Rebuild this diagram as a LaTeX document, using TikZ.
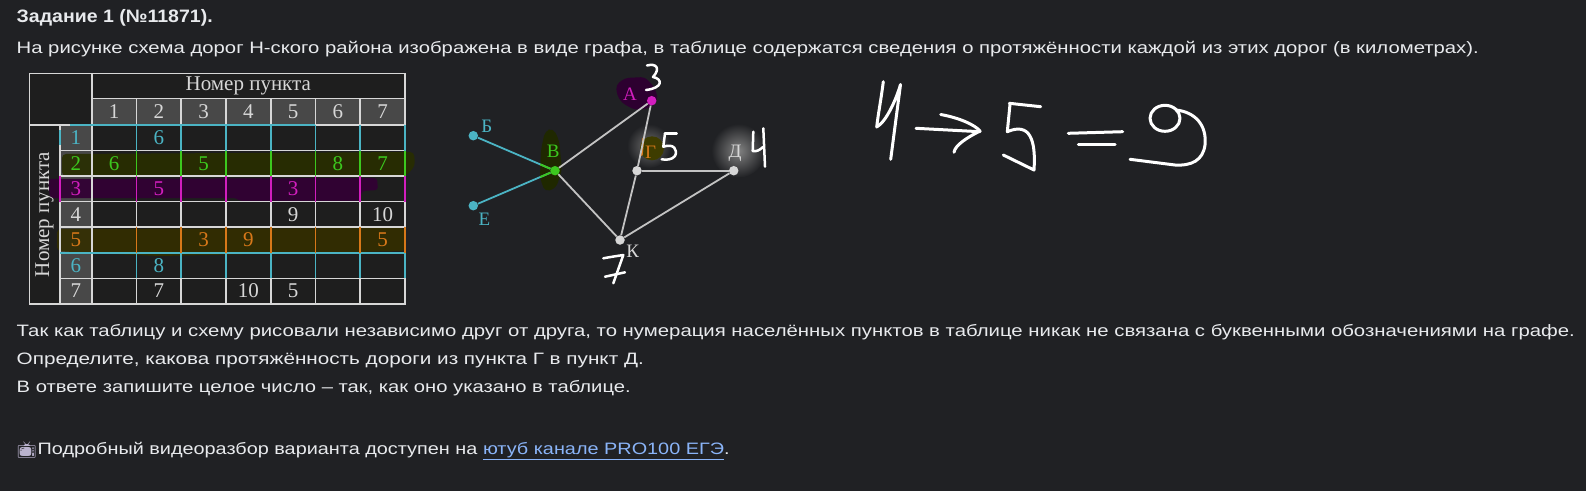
\documentclass[tikz,border=0pt]{standalone}
\usepackage{fontspec}
\usepackage{graphicx}
\usetikzlibrary{calc}
\setmainfont{Liberation Sans}
\newfontfamily\tabfont{Liberation Serif}
\newfontfamily\emojifont{Noto Emoji}
\definecolor{pagebg}{RGB}{32,33,36}
\definecolor{pagetext}{RGB}{232,234,237}
\definecolor{linkblue}{RGB}{138,180,248}
\definecolor{tvcolor}{RGB}{185,178,205}
\definecolor{gridline}{RGB}{215,215,215}
\definecolor{headcell}{RGB}{72,72,72}
\definecolor{bodycell}{RGB}{30,30,30}
\definecolor{hlcyan}{RGB}{75,180,196}
\definecolor{hlgreen}{RGB}{60,200,30}
\definecolor{hlmagenta}{RGB}{210,30,190}
\definecolor{hlorange}{RGB}{215,120,25}
\definecolor{brushgreen}{RGB}{40,46,0}
\definecolor{brushpurple}{RGB}{50,0,52}
\definecolor{brusholive}{RGB}{52,46,0}
\definecolor{blobyellow}{RGB}{62,60,0}
\definecolor{blobpurple}{RGB}{45,0,48}
\definecolor{blobgreen}{RGB}{31,40,0}
\definecolor{glowD}{RGB}{130,130,130}
\definecolor{glowG}{RGB}{110,110,110}
\definecolor{edgegray}{RGB}{195,195,195}
\definecolor{dotgray}{RGB}{215,215,215}
\newcommand{\fitw}[2]{\resizebox{#1}{\height}{#2}}
\tikzset{
  txt/.style={anchor=base west, inner sep=0pt, text=pagetext, font=\fontsize{16.5}{16.5}\selectfont},
  cellnum/.style={inner sep=0pt, text=#1, font=\tabfont\fontsize{21}{21}\selectfont},
  cellnum/.default=gridline,
  town/.style={circle, fill=#1, inner sep=0pt, minimum size=9.5pt},
  townlabel/.style={inner sep=0pt, text=#1, font=\tabfont\fontsize{19}{19}\selectfont},
  road/.style={line width=1.8pt, draw=#1},
  pen/.style={white, line width=3pt, line cap=round, line join=round},
}
\begin{document}
\begin{tikzpicture}[x=1pt, y=-1pt]
	\useasboundingbox (0,0) rectangle (1586,491);
	\fill[pagebg] (0,0) rectangle (1586,491);

	% task text
	\node[txt, font=\fontsize{18}{18}\selectfont\bfseries] (title) at (16.5,22) {\fitw{196pt}{Задание 1 (№11871).}};
	\node[txt] (intro) at (16.5,53.3) {\fitw{1462pt}{На рисунке схема дорог Н-ского района изображена в виде графа, в таблице содержатся сведения о протяжённости каждой из этих дорог (в километрах).}};
	\node[txt] (note) at (16.5,336.5) {\fitw{1558pt}{Так как таблицу и схему рисовали независимо друг от друга, то нумерация населённых пунктов в таблице никак не связана с буквенными обозначениями на графе.}};
	\node[txt] (question) at (16.5,364.5) {\fitw{627pt}{Определите, какова протяжённость дороги из пункта Г в пункт Д.}};
	\node[txt] (answer) at (16.5,392.5) {\fitw{614pt}{В ответе запишите целое число – так, как оно указано в таблице.}};
	\node[txt, text=tvcolor, font=\emojifont\fontsize{16}{16}\selectfont] (tv) at (16.5,455) {📺};
	\node[txt] (video) at (37.4,454.5) {\fitw{692pt}{Подробный видеоразбор варианта доступен на \textcolor{linkblue}{\underline{ютуб канале PRO100 ЕГЭ}}.}};

	% table
	\fill[bodycell] (29.3,73.3) rectangle (404.95,303.85);
	\foreach \c in {1,...,7}
		\fill[headcell] (91.7+\c*44.75-44.75,98.3) rectangle ++(44.75,26.7);
	\foreach \r in {1,...,7}
		\fill[headcell] (60,99.45+\r*25.55) rectangle ++(31.7,25.55);
	% highlighter strokes
	\fill[brushgreen, opacity=.9, rounded corners=4pt] (62,154) -- (414,152) -- (415,166) -- (406,176) -- (62,176) -- cycle;
	\fill[brushpurple, opacity=.92, rounded corners=3pt] (48,179) -- (377,178) -- (378,190) -- (362,191) -- (360,201) -- (240,201) -- (236,198) -- (50,198) -- cycle;
	\fill[brusholive, opacity=.9, rounded corners=4pt] (57,229) -- (405,228) -- (405,251) -- (300,253) -- (160,256) -- (90,253) -- (57,251) -- cycle;
	% grid
	\begin{scope}[draw=gridline, line width=1.6pt]
		\draw (29.3,73.3) rectangle (404.95,303.85);
		\draw (91.7,98.3) -- (404.95,98.3);
		\draw (29.3,125) -- (404.95,125);
		\foreach \r in {1,...,6}
			\draw (60,125+\r*25.55) -- (404.95,125+\r*25.55);
		\draw (60,125) -- (60,303.85);
		\draw (91.7,73.3) -- (91.7,303.85);
		\foreach \c in {1,...,6}
			\draw (91.7+\c*44.75,98.3) -- (91.7+\c*44.75,303.85);
	\end{scope}
	% coloured grid segments
	\draw[hlcyan, line width=1.6pt] (70,125) -- (315,125);
	\draw[hlcyan, line width=1.6pt] (60,252.75) -- (404.95,252.75);
	\foreach \c in {1,...,7} {
		\draw[hlcyan, line width=1.6pt] (91.7+\c*44.75,125) -- ++(0,25.55);
		\draw[hlgreen, line width=1.6pt] (91.7+\c*44.75,150.55) -- ++(0,25.55);
		\draw[hlmagenta, line width=1.6pt] (91.7+\c*44.75,176.1) -- ++(0,25.55);
		\draw[hlorange, line width=1.6pt] (91.7+\c*44.75,227.2) -- ++(0,25.55);
		\draw[hlcyan, line width=1.6pt] (91.7+\c*44.75,252.75) -- ++(0,25.55);
	}
	\draw[hlcyan, line width=1.6pt] (60,130) -- (60,145);
	\draw[hlmagenta, line width=1.6pt] (60,176.1) -- (60,201.65);
	% headers
	\node[cellnum] (head) at (248.3,86) {Номер пункта};
	\node[cellnum, rotate=90] (side) at (44.6,214.4) {Номер пункта};
	\foreach \c in {1,...,7}
		\node[cellnum] (h\c) at (69.3+\c*44.75,111.6) {\c};
	\node[cellnum=hlcyan] (v1) at (75.8,137.8) {1};
	\node[cellnum=hlgreen] (v2) at (75.8,163.3) {2};
	\node[cellnum=hlmagenta] (v3) at (75.8,188.9) {3};
	\node[cellnum] (v4) at (75.8,214.4) {4};
	\node[cellnum=hlorange] (v5) at (75.8,240) {5};
	\node[cellnum=hlcyan] (v6) at (75.8,265.5) {6};
	\node[cellnum] (v7) at (75.8,291.1) {7};
	% distances
	\node[cellnum=hlcyan] (d12) at (158.8,137.8) {6};
	\node[cellnum=hlgreen] (d21) at (114.1,163.3) {6};
	\node[cellnum=hlgreen] (d23) at (203.6,163.3) {5};
	\node[cellnum=hlgreen] (d26) at (337.8,163.3) {8};
	\node[cellnum=hlgreen] (d27) at (382.6,163.3) {7};
	\node[cellnum=hlmagenta] (d32) at (158.8,188.9) {5};
	\node[cellnum=hlmagenta] (d35) at (293.1,188.9) {3};
	\node[cellnum] (d45) at (293.1,214.4) {9};
	\node[cellnum] (d47) at (382.6,214.4) {10};
	\node[cellnum=hlorange] (d53) at (203.6,240) {3};
	\node[cellnum=hlorange] (d54) at (248.3,240) {9};
	\node[cellnum=hlorange] (d57) at (382.6,240) {5};
	\node[cellnum=hlcyan] (d62) at (158.8,265.5) {8};
	\node[cellnum] (d72) at (158.8,291.1) {7};
	\node[cellnum] (d74) at (248.3,291.1) {10};
	\node[cellnum] (d75) at (293.1,291.1) {5};

	% graph: marks under the towns
	\shade[inner color=glowD, outer color=pagebg] (738.3,150.7) circle (27);
	\shade[inner color=glowG, outer color=pagebg] (649,146) circle (22);
	\fill[blobyellow] (652,148.3) circle (12);
	\draw[hlorange, line width=2pt, line cap=round] (643.3,138.3) -- (641.7,155);
	\fill[blobpurple, rounded corners=4pt] (616,85) -- (625,78) -- (645,77) -- (655,88) -- (658,100) -- (650,108) -- (635,110) -- (622,103) -- (617,95) -- cycle;
	\fill[blobgreen, rounded corners=5pt] (545,131) -- (553,128) -- (559,140) -- (562,170) -- (556,188) -- (545,192) -- (540,178) -- (541,150) -- cycle;
	% towns
	\node[town=hlmagenta] (nA) at (651.7,100.7) {};
	\node[town=hlcyan] (nB) at (473.3,135.7) {};
	\node[town=hlgreen] (nV) at (555,170.7) {};
	\node[town=dotgray] (nG) at (637,170.7) {};
	\node[town=dotgray] (nD) at (733.7,170.7) {};
	\node[town=hlcyan] (nE) at (473.3,205.7) {};
	\node[town=dotgray] (nK) at (620,240) {};
	% roads
	\draw[road=hlcyan] (nB) -- (nV);
	\draw[road=hlcyan] (nE) -- (nV);
	\draw[road=hlgreen] ($(nB)!0.82!(nV)$) -- (nV);
	\draw[road=hlgreen] ($(nE)!0.82!(nV)$) -- (nV);
	\draw[road=edgegray] (nV) -- (nA);
	\draw[road=edgegray] (nV) -- (nK);
	\draw[road=edgegray] (nA) -- (nG);
	\draw[road=edgegray] (nG) -- (nK);
	\draw[road=edgegray] (nG) -- (nD);
	\draw[road=edgegray] (nD) -- (nK);
	% town names
	\node[townlabel=hlmagenta] (lA) at (630,94) {А};
	\node[townlabel=hlcyan] (lB) at (486.7,126.7) {Б};
	\node[townlabel=hlgreen] (lV) at (553.3,151.5) {В};
	\node[townlabel=hlorange] (lG) at (650.7,152.3) {Г};
	\node[townlabel=dotgray] (lD) at (735,153.3) {Д};
	\node[townlabel=hlcyan] (lE) at (484.3,219.5) {Е};
	\node[townlabel=dotgray] (lK) at (632.7,251) {К};

	% handwriting next to the graph
	\draw[pen, line width=2.5pt] (647,65.5) .. controls (656,63) and (661,68) .. (653,77) .. controls (663,79) and (663,88) .. (646,90);
	\draw[pen, line width=2.5pt] (665,133.3) -- (676.7,133.3);
	\draw[pen, line width=2.5pt] (665,133.3) -- (663.3,146.7) .. controls (674,143) and (678,150) .. (675,156) .. controls (672,160) and (666,160) .. (661.7,159.3);
	\draw[pen, line width=2.5pt] (753.3,131.7) -- (752.7,151) .. controls (756,152) and (760,150) .. (763,147);
	\draw[pen, line width=2.5pt] (763.3,128.3) -- (765,166.7);
	\draw[pen, line width=2.5pt] (603.3,258.3) .. controls (610,257) and (617,256) .. (623.3,255) -- (613.3,283.3);
	\draw[pen, line width=2.5pt] (605,276.7) -- (625,272.3);

	% handwritten answer
	\draw[pen] (883.3,81.7) .. controls (881,100) and (878,115) .. (876.7,127) .. controls (886,122) and (896,100) .. (900.5,84.5) -- (890.7,159.3);
	\draw[pen] (916,128.3) -- (980,131.7);
	\draw[pen] (940.7,114.5) .. controls (960,118) and (975,125) .. (980,131) .. controls (968,137) and (955,145) .. (954,152.3);
	\draw[pen] (1009.3,103.3) -- (1040.7,106.7);
	\draw[pen] (1010,104.3) -- (1007.3,131.7) .. controls (1030,122) and (1036,140) .. (1034,170) -- (1003.3,155);
	\draw[pen] (1068.3,133.3) -- (1122.7,131.7);
	\draw[pen] (1078.3,144.3) -- (1115,144.3);
	\draw[pen] (1165,118.3) ellipse (15 and 13);
	\draw[pen] (1176,110) .. controls (1195,112) and (1207,125) .. (1205,145) .. controls (1203,160) and (1192,166) .. (1175,165) -- (1130,159.3);
\end{tikzpicture}
\end{document}
